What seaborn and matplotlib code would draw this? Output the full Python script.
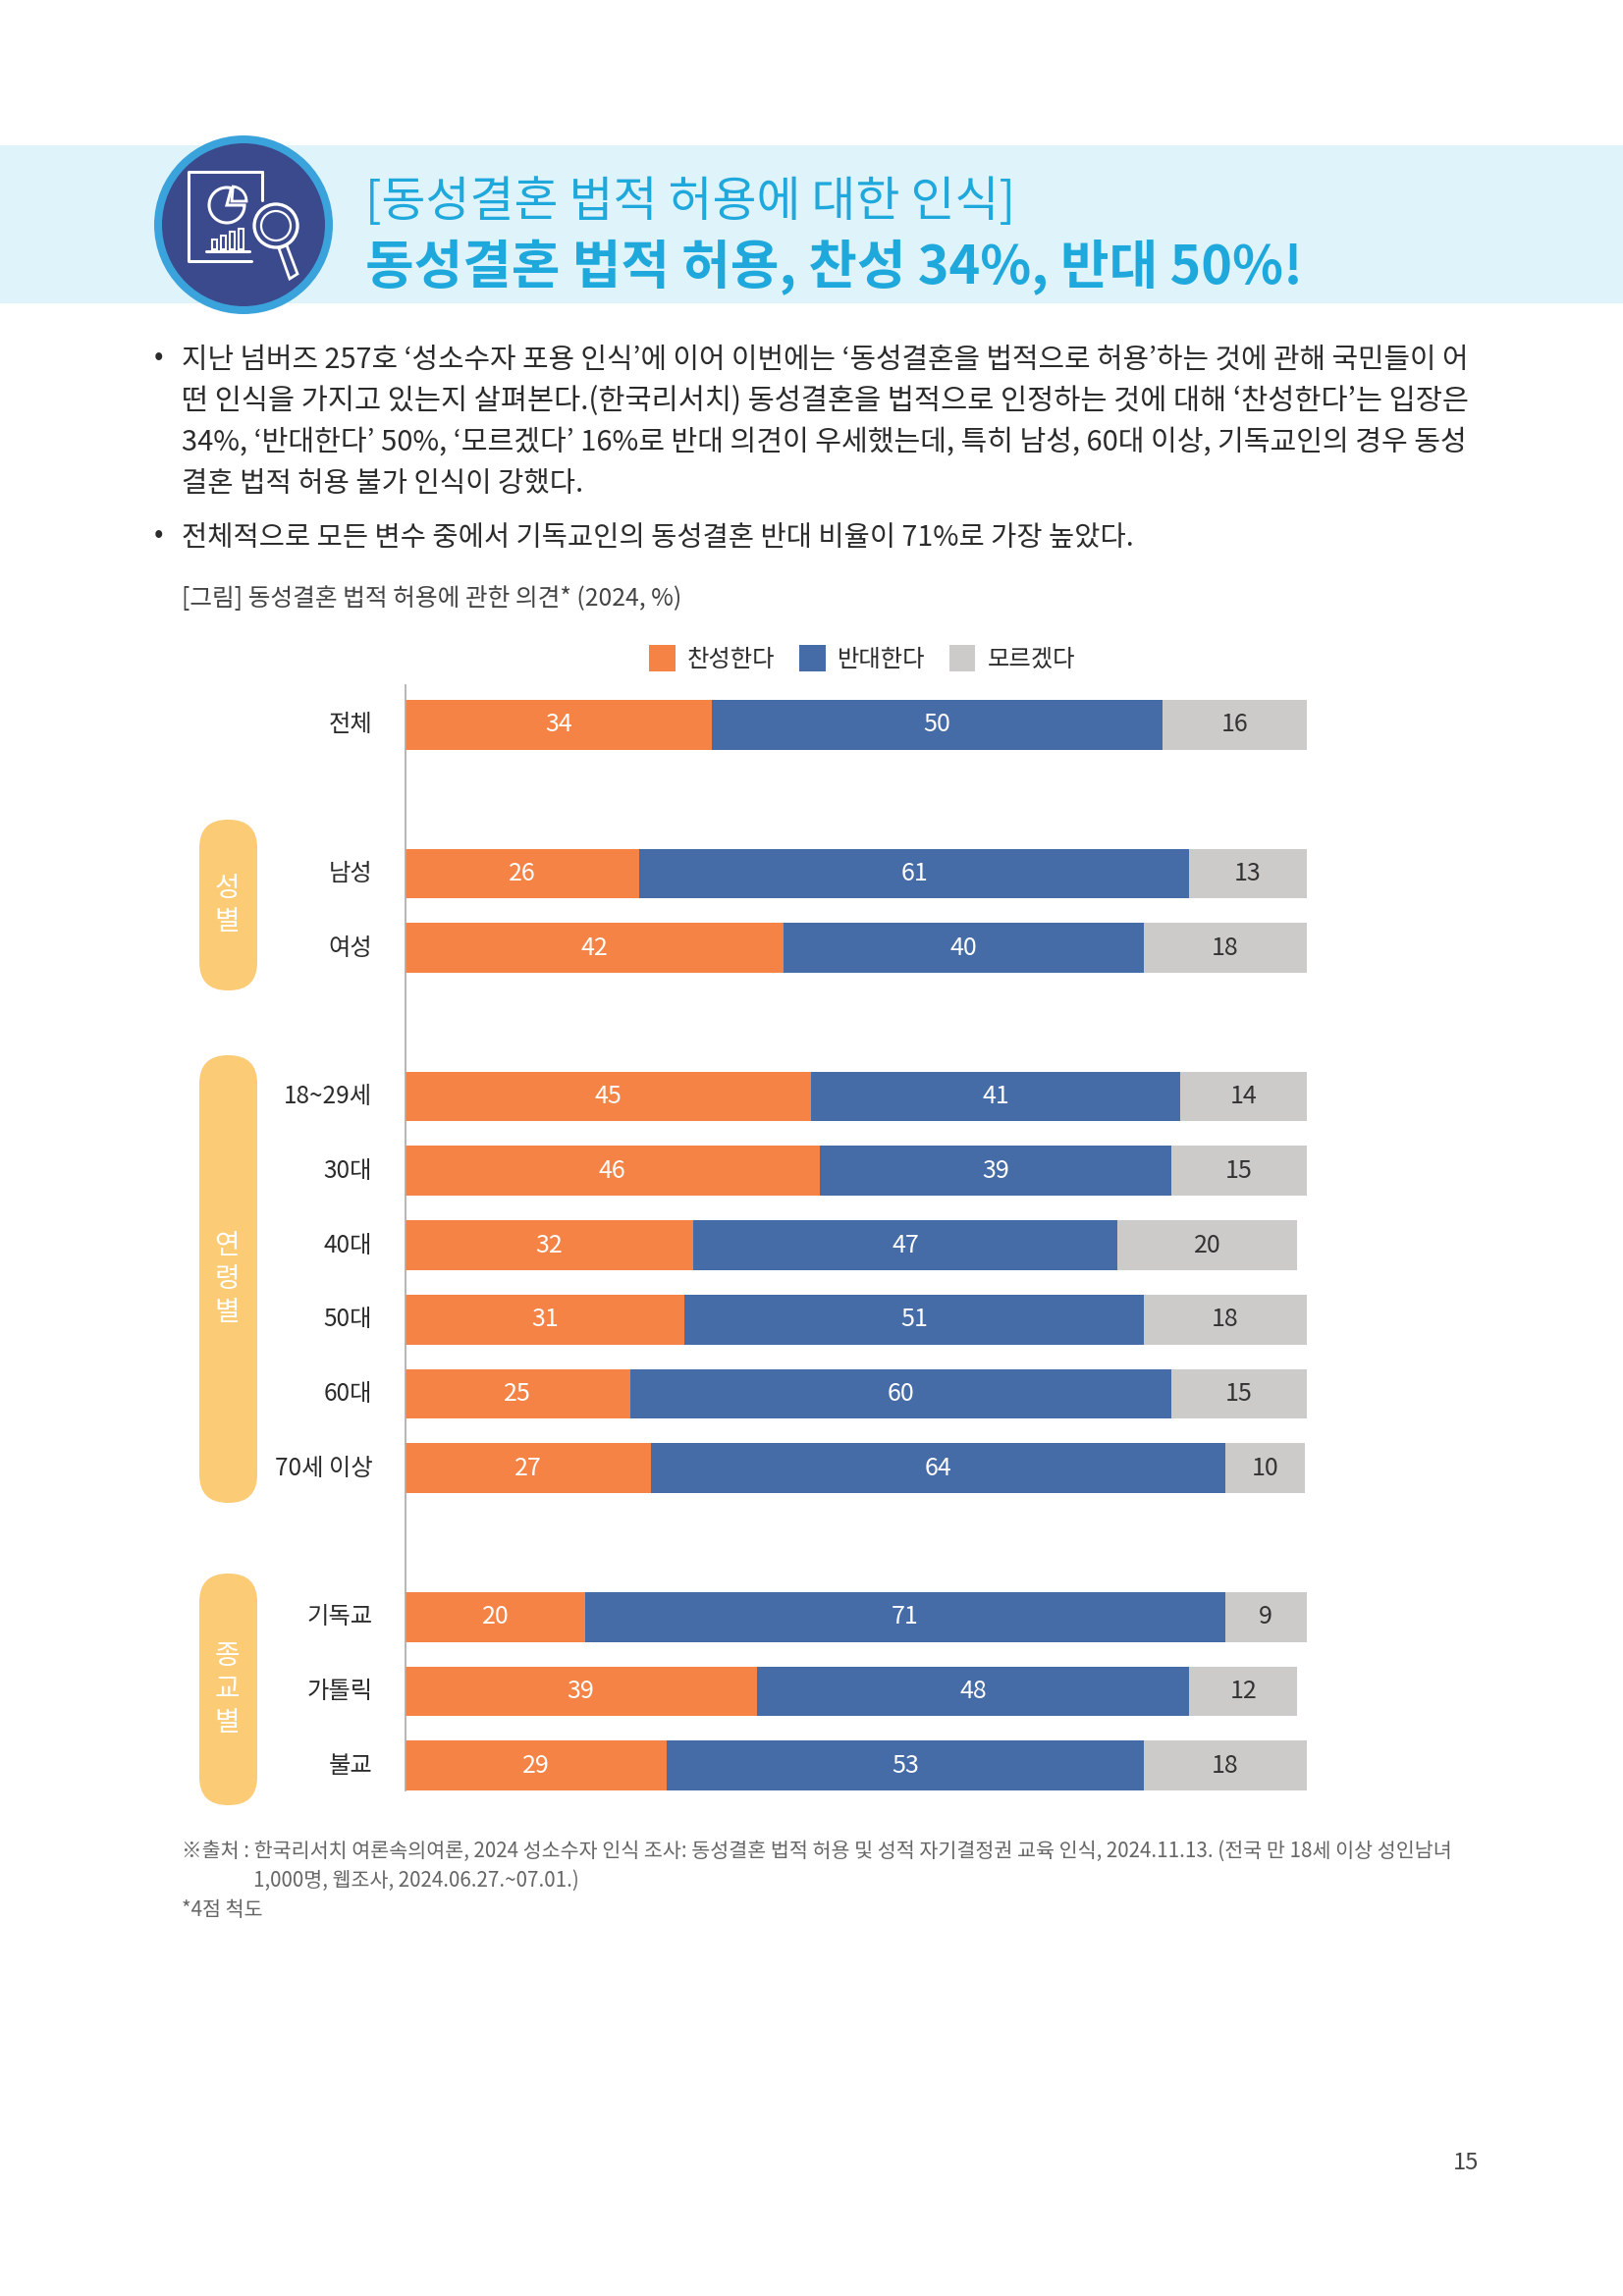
import pandas as pd
import matplotlib
matplotlib.use('Agg')
import matplotlib.pyplot as plt
from matplotlib.patches import Circle, FancyBboxPatch, Rectangle, Wedge, Polygon
from matplotlib.lines import Line2D
from matplotlib.transforms import ScaledTranslation
import seaborn as sns

sns.set_theme(style="white")
plt.rcParams['font.family'] = ['Noto Sans CJK KR', 'DejaVu Sans']

# Data (blank names are the gaps between the groups)
order = ['전체', ' ', '남성', '여성', '  ', '18~29세', '30대', '40대', '50대', '60대', '70세 이상',
         '   ', '기독교', '가톨릭', '불교']
groups = ['전체', '남성', '여성', '18~29세', '30대', '40대', '50대', '60대', '70세 이상', '기독교', '가톨릭', '불교']
agree = [34, 26, 42, 45, 46, 32, 31, 25, 27.3, 20, 39, 29]
oppose = [50, 61, 40, 41, 39, 47, 51, 60, 63.7, 71, 48, 53]
unsure = [16, 13, 18, 14, 15, 20, 18, 15, 8.8, 9, 12, 18]  # 70세 이상 bar is drawn shorter than its label in the picture
unsure_labels = [16, 13, 18, 14, 15, 20, 18, 15, 10, 9, 12, 18]
series_names = ['찬성한다', '반대한다', '모르겠다']

side_groups = ['성별', '연령별', '종교별']

title_top = '[동성결혼 법적 허용에 대한 인식]'
title_main = '동성결혼 법적 허용, 찬성 34%, 반대 50%!'
body_lines = [
    '지난 넘버즈 257호 ‘성소수자 포용 인식’에 이어 이번에는 ‘동성결혼을 법적으로 허용’하는 것에 관해 국민들이 어',
    '떤 인식을 가지고 있는지 살펴본다.(한국리서치) 동성결혼을 법적으로 인정하는 것에 대해 ‘찬성한다’는 입장은',
    '34%, ‘반대한다’ 50%, ‘모르겠다’ 16%로 반대 의견이 우세했는데, 특히 남성, 60대 이상, 기독교인의 경우 동성',
    '결혼 법적 허용 불가 인식이 강했다.',
    '전체적으로 모든 변수 중에서 기독교인의 동성결혼 반대 비율이 71%로 가장 높았다.',
]
# the page is justified, so each line gets its own size to end in the right place
body_sizes = [20.75, 21.2, 20.95, 20.6, 20.5]
caption = '[그림] 동성결혼 법적 허용에 관한 의견* (2024, %)'
notes = [
    '※출처 : 한국리서치 여론속의여론, 2024 성소수자 인식 조사: 동성결혼 법적 허용 및 성적 자기결정권 교육 인식, 2024.11.13. (전국 만 18세 이상 성인남녀',
    '1,000명, 웹조사, 2024.06.27.~07.01.)',
    '*4점 척도',
]

ORANGE = '#F58345'
BLUE = '#466CA7'
GRAY = '#CDCBC9'
SKY = '#1FA8DC'
TEXT = '#2B2B2B'

df = pd.DataFrame({'group': groups, 'agree': agree, 'oppose': oppose, 'unsure': unsure,
                   'unsure_label': unsure_labels})
df['c1'] = df['agree']
df['c2'] = df['c1'] + df['oppose']
df['c3'] = df['c2'] + df['unsure']

W, H = 1653, 2339
fig = plt.figure(figsize=(W / 100, H / 100), dpi=100, facecolor='white')

# Page layer in pixel coordinates
page = fig.add_axes([0, 0, 1, 1], zorder=0)
page.set_xlim(0, W)
page.set_ylim(H, 0)
page.axis('off')

page.add_patch(Rectangle((0, 148), W, 161, color='#DFF3FA', lw=0))
page.add_patch(Circle((248, 229), 91, color='#3BA3DC', lw=0))
page.add_patch(Circle((248, 229), 83, color='#3A4A8C', lw=0))

# Report icon
ic = dict(color='white', lw=2.2, solid_capstyle='round')
page.add_line(Line2D([267, 192, 192, 256], [175, 175, 266, 266], **ic))
page.add_line(Line2D([267, 267], [175, 204], **ic))
page.add_patch(Wedge((231, 209), 18, 0, 285, fill=False, ec='white', lw=2.2))
page.add_patch(Wedge((236, 205), 15, -85, 0, fill=False, ec='white', lw=2.0))
for bx, bt in zip([216, 225, 234, 243], [244, 240, 236, 233]):
    page.add_patch(Rectangle((bx, bt), 5, 254 - bt, fill=False, ec='white', lw=1.5))
page.add_line(Line2D([210, 254], [256, 256], **ic))
page.add_patch(Circle((281, 230), 22, facecolor='#3A4A8C', ec='white', lw=2.4))
page.add_patch(Circle((281, 230), 15, fill=False, ec='white', lw=1.6))
page.add_patch(Polygon([[284, 253], [292, 250], [303, 279], [295, 284]], closed=True,
                       facecolor='#3A4A8C', ec='white', lw=2.0))

page.text(372, 206, title_top, fontsize=35.2, color=SKY, va='center', ha='left', fontweight='light')
page.text(372, 273, title_main, fontsize=38.8, color=SKY, va='center', ha='left', fontweight='bold')

for yy, line, fs in zip([367, 409, 451, 493, 548], body_lines, body_sizes):
    page.text(185, yy, line, fontsize=fs, color=TEXT, va='center', ha='left', fontweight='light')
for yy in [364, 545]:
    page.text(161, yy, '•', fontsize=20, color=TEXT, va='center', ha='center')
page.text(185, 610, caption, fontsize=17.8, color='#444444', va='center', ha='left', fontweight='light')

for name, top, bottom in zip(side_groups, [835, 1075, 1603], [1009, 1531, 1839]):
    page.add_patch(FancyBboxPatch((203, top), 59, bottom - top,
                                  boxstyle='round,pad=0,rounding_size=29', mutation_aspect=1,
                                  facecolor='#FCCB75', ec='#FCCB75', lw=0))
    n = len(name)
    for i, ch in enumerate(name):
        page.text(231.5, (top + bottom) / 2 + (i - (n - 1) / 2) * 34, ch, fontsize=20, color='white',
                  ha='center', va='center', fontweight='light')

for (xx, yy), line in zip([(185, 1886), (258, 1916), (185, 1946)], notes):
    page.text(xx, yy, line, fontsize=14.85, color='#666666', va='center', ha='left', fontweight='light')
page.text(1493, 2203, '15', fontsize=17, color='#444444', va='center', ha='center')

# Chart: cumulative bars painted back to front
ax = fig.add_axes([412.6 / W, 1 - 1836.5 / H, 918 / W, (1836.5 - 700.6) / H], zorder=1)
ax.patch.set_alpha(0)
for col, color, name in [('c3', GRAY, series_names[2]), ('c2', BLUE, series_names[1]), ('c1', ORANGE, series_names[0])]:
    sns.barplot(data=df, y='group', x=col, order=order, orient='h', color=color, saturation=1,
                width=0.67, errorbar=None, label=name, ax=ax, linewidth=0)

ax.set_xlim(0, 100)
ax.set_ylim(14.5, -0.5)
ax.set_xlabel('')
ax.set_ylabel('')
ax.set_xticks([])
ax.tick_params(axis='y', length=0, pad=24, labelsize=17.5, labelcolor=TEXT)
nudge = ScaledTranslation(0, 3 / 100, fig.dpi_scale_trans)
for lab in ax.get_yticklabels():
    lab.set_transform(lab.get_transform() + nudge)
    lab.set_fontweight('light')
sns.despine(ax=ax, top=True, right=True, bottom=True)
ax.spines['left'].set_color('#AAAAAA')
ax.spines['left'].set_linewidth(1.2)
ax.spines['left'].set_bounds(-0.53, 14.335)

rows = [order.index(g) for g in groups]
for r, row in zip(rows, df.itertuples()):
    ax.text(row.c1 / 2, r, f'{round(row.agree)}', color='white', fontsize=18, ha='center', va='center', fontweight='light')
    ax.text((row.c1 + row.c2) / 2, r, f'{round(row.oppose)}', color='white', fontsize=18, ha='center', va='center', fontweight='light')
    ax.text((row.c2 + row.c3) / 2, r, f'{row.unsure_label}', color='#333333', fontsize=18, ha='center', va='center', fontweight='light')

handles, labels = ax.get_legend_handles_labels()
ax.legend(handles[::-1], labels[::-1], ncol=3, frameon=False, fontsize=17.5, loc='center',
          bbox_to_anchor=((878 - 412.6) / 918, 1 + (700.6 - 671) / (1836.5 - 700.6)),
          handlelength=1.1, handleheight=1.3, handletextpad=0.5, columnspacing=1.0, labelcolor=TEXT,
          prop={'size': 17.5, 'weight': 'light'})

fig.savefig('out.png', dpi=100)
